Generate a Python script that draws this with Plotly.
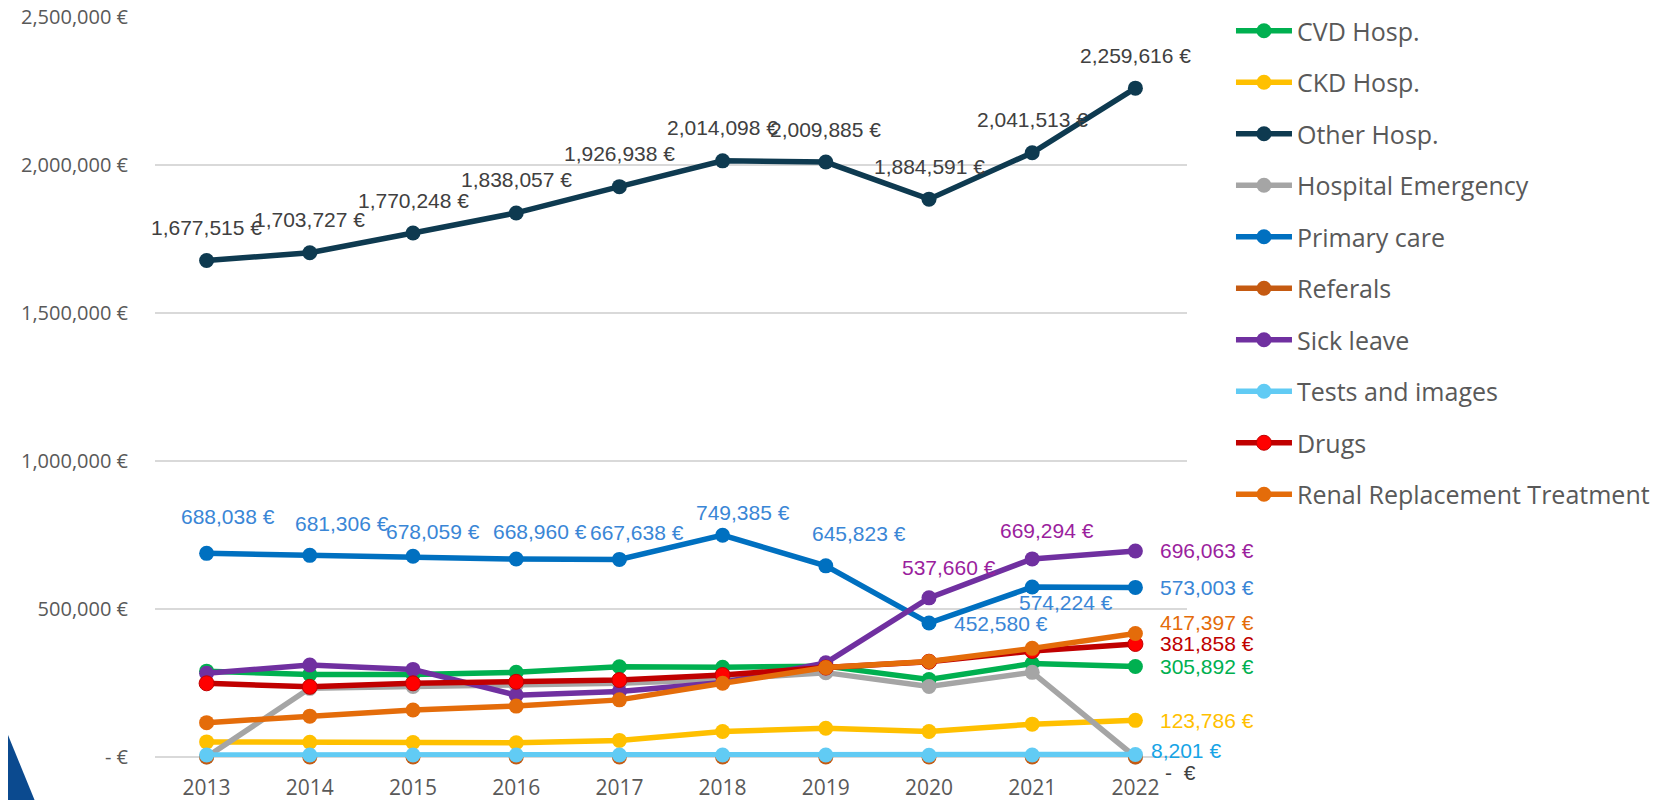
import plotly.graph_objects as go

years = ["2013", "2014", "2015", "2016", "2017", "2018", "2019", "2020", "2021", "2022"]

cvd_hosp = [290000, 279000, 279000, 286000, 305000, 303000, 307000, 262000, 316000, 305892]
ckd_hosp = [51000, 50000, 49000, 48000, 56000, 86000, 97000, 86000, 111000, 123786]
other_hosp = [1677515, 1703727, 1770248, 1838057, 1926938, 2014098, 2009885, 1884591, 2041513, 2259616]
hosp_emergency = [0, 232000, 238000, 243000, 249000, 262000, 285000, 238000, 286000, 0]
primary_care = [688038, 681306, 678059, 668960, 667638, 749385, 645823, 452580, 574224, 573003]
referals = [0, 0, 0, 0, 0, 0, 0, 0, 0, 0]
sick_leave = [283000, 311000, 296000, 209000, 221000, 252000, 318000, 537660, 669294, 696063]
tests_images = [7000, 7000, 7000, 7000, 7000, 7000, 7000, 6000, 7000, 8201]
drugs = [249000, 237000, 249000, 254000, 260000, 277000, 302000, 322000, 358000, 381858]
renal_rt = [116000, 138000, 159000, 172000, 193000, 249000, 302000, 323000, 367000, 417397]

y_tickvals = [0, 500000, 1000000, 1500000, 2000000, 2500000]
y_ticktext = ["- €", "500,000 €", "1,000,000 €", "1,500,000 €", "2,000,000 €", "2,500,000 €"]

series = [
    ("CVD Hosp.", cvd_hosp, "#00B050", "#00B050"),
    ("CKD Hosp.", ckd_hosp, "#FFC000", "#FFC000"),
    ("Other Hosp.", other_hosp, "#0E3A50", "#0E3A50"),
    ("Hospital Emergency", hosp_emergency, "#A5A5A5", "#A5A5A5"),
    ("Primary care", primary_care, "#0070C0", "#0070C0"),
    ("Referals", referals, "#C55A11", "#C55A11"),
    ("Sick leave", sick_leave, "#7030A0", "#7030A0"),
    ("Tests and images", tests_images, "#61CBF4", "#61CBF4"),
    ("Drugs", drugs, "#C00000", "#FF0000"),
    ("Renal Replacement Treatment", renal_rt, "#E46C0A", "#E46C0A"),
]

fig = go.Figure()
for name, vals, lc, mc in series:
    fig.add_trace(go.Scatter(
        x=years, y=vals, name=name, mode="lines+markers",
        legendgroup=name,
        line=dict(color=lc, width=5.5),
        marker=dict(color=mc, size=15, line=dict(color=lc, width=1 if name == "Drugs" else 0)),
        cliponaxis=False,
    ))


def fmt(v):
    return "-  €" if v == 0 else f"{v:,} €"


# label styling: (series values, index, color, xanchor, xshift, yshift)
label_specs = []
for i in range(10):
    label_specs.append((other_hosp, i, "#404040", "center", 0, 33))
pc_offsets = [("center", 21, 37), ("center", 32, 32), ("center", 20, 25), ("center", 24, 27),
              ("center", 18, 27), ("center", 20, 23), ("center", 33, 32), ("left", 23, 0),
              ("center", 34, -15), ("left", 23, 0)]
for i, (xa, xs, ys) in enumerate(pc_offsets):
    label_specs.append((primary_care, i, "#3A86D6", xa, xs, ys))
label_specs += [
    (sick_leave, 7, "#9B1F9E", "center", 20, 30),
    (sick_leave, 8, "#9B1F9E", "center", 15, 28),
    (sick_leave, 9, "#9B1F9E", "left", 23, 0),
    (renal_rt, 9, "#E46C0A", "left", 23, 11),
    (drugs, 9, "#C00000", "left", 23, 0),
    (cvd_hosp, 9, "#00B050", "left", 23, 0),
    (ckd_hosp, 9, "#FFC000", "left", 23, 0),
    (tests_images, 9, "#17A4E6", "left", 14, 4),
    (referals, 9, "#404040", "left", 28, -15),
]

annotations = []
for vals, i, col, xa, xs, ys in label_specs:
    annotations.append(dict(
        x=i, y=vals[i], xref="x", yref="y", text=fmt(vals[i]),
        showarrow=False, xanchor=xa, yanchor="middle", xshift=xs, yshift=ys,
        font=dict(family="Liberation Sans", size=21, color=col),
    ))

# the page adds an 8px body margin, so the figure is 8px smaller and shifted
fig.update_layout(
    width=1668, height=792,
    margin=dict(l=147, r=489, t=9, b=43, autoexpand=False),
    paper_bgcolor="white", plot_bgcolor="white",
    showlegend=True,
    annotations=annotations,
    legend=dict(
        xref="container", yref="container",
        x=0.7332, y=1.0, xanchor="left", yanchor="top",
        font=dict(family="Open Sans, sans-serif", size=25, color="#595959"),
        itemwidth=56, traceorder="grouped", tracegroupgap=16,
        bgcolor="rgba(0,0,0,0)", maxheight=790,
    ),
    xaxis=dict(
        type="category", range=[-0.5, 9.5], showgrid=False, showline=False, zeroline=False,
        tickfont=dict(family="Open Sans, sans-serif", size=21, color="#595959"),
        ticks="", ticklabelstandoff=16, automargin=False, ticklabeloverflow="allow",
    ),
    yaxis=dict(
        range=[0, 2500000], tickvals=y_tickvals, ticktext=y_ticktext,
        showgrid=True, gridcolor="#D9D9D9", gridwidth=1.5,
        zeroline=True, zerolinecolor="#D9D9D9", zerolinewidth=1.5,
        showline=False, ticks="", ticklabelstandoff=26, automargin=False,
        ticklabeloverflow="allow",
        tickfont=dict(family="Open Sans, sans-serif", size=20, color="#595959"),
    ),
    hovermode=False,
)

# logo fragment in the lower-left corner
fig.add_shape(type="path", xref="paper", yref="paper",
              path="M -0.1506 0.0324 L -0.1448 0.0378 L -0.1167 -0.0581 L -0.1506 -0.0581 Z",
              fillcolor="#0B4A8F", line=dict(width=0), layer="above")

fig.write_html("out.html")
